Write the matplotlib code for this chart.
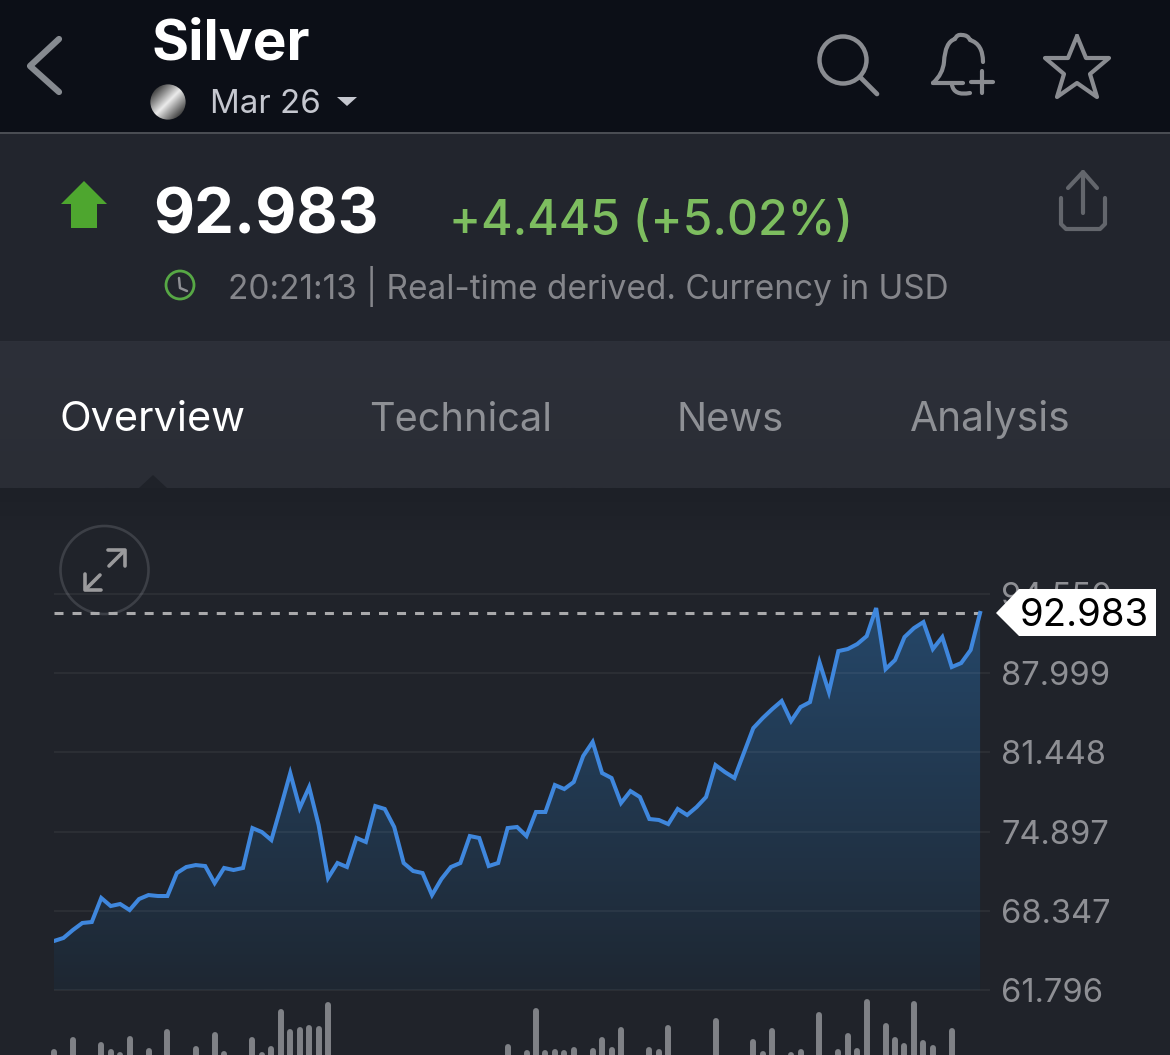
import matplotlib

matplotlib.use("Agg")
import matplotlib.pyplot as plt
import numpy as np
from matplotlib import colors as mcolors
from matplotlib.patches import Circle, Polygon, PathPatch, Rectangle
from matplotlib.path import Path

plt.rcParams["font.family"] = ["Inter", "DejaVu Sans"]

W, H = 1170, 1055

prices = [
    65.85, 66.10, 66.76, 67.34, 67.42, 69.41, 68.74, 68.91, 68.41, 69.32,
    69.65, 69.57, 69.57, 71.47, 71.97, 72.13, 72.05, 70.64, 71.89, 71.72,
    71.89, 75.19, 74.86, 74.20, 76.93, 79.74, 76.85, 78.58, 75.44, 71.06,
    72.30, 71.97, 74.37, 74.04, 77.01, 76.77, 75.28, 72.30, 71.64, 71.47,
    69.65, 70.98, 71.97, 72.30, 74.53, 74.37, 72.05, 72.30, 75.19, 75.28,
    74.53, 76.52, 76.52, 78.75, 78.42, 79.00, 81.15, 82.31, 79.74, 79.33,
    77.26, 78.25, 77.76, 75.94, 75.86, 75.52, 76.77, 76.27, 76.93, 77.76,
    80.40, 79.82, 79.33, 81.40, 83.46, 84.29, 85.03, 85.70, 84.04, 85.20,
    85.61, 88.92, 86.44, 89.83, 90.00, 90.41, 91.07, 93.39, 88.34, 89.09,
    90.99, 91.73, 92.23, 90.00, 90.99, 88.51, 88.84, 89.92, 92.983,
]
tick_values = [94.550, 87.999, 81.448, 74.897, 68.347, 61.796]
tick_labels = ["94.550", "87.999", "81.448", "74.897", "68.347", "61.796"]
last_price = 92.983

volume_idx = [
    0, 2, 5, 6, 7, 8, 10, 12, 15, 16, 17, 18, 21, 22, 23, 24, 25, 26, 27, 28, 29,
    48, 50, 51, 52, 53, 54, 55, 56, 57, 58, 59, 60, 63, 64, 65, 68, 69, 70,
    74, 75, 76, 78, 79, 80, 81, 83, 84, 85, 86, 88, 89, 90, 91, 92, 93, 94, 95,
]
volumes = [
    6, 18, 13, 6, 3, 19, 7, 26, 9, 2, 23, 4, 18, 3, 9, 46, 26, 28, 30, 29, 53,
    11, 5, 47, 5, 6, 5, 8, 1, 7, 18, 8, 28, 8, 6, 30, 2, 1, 37,
    16, 4, 27, 3, 6, 2, 43, 6, 22, 7, 56, 32, 18, 12, 54, 15, 10, 2, 27,
]

tabs = ["Overview", "Technical", "News", "Analysis"]
tab_x = [60, 369, 677, 910]
tab_size = [29.8, 28.6, 28.8, 29.3]

PX_PER_UNIT = 79.2 / 6.551
CHART_L, CHART_R = 54, 990
CHART_T, CHART_B = 585, 995
STEP_PX = 9.45


def px_to_price(py):
    return tick_values[-1] + (990 - py) / PX_PER_UNIT


def pixel_axes(fig, zorder):
    ax = fig.add_axes([0, 0, 1, 1], zorder=zorder)
    ax.set_xlim(0, W)
    ax.set_ylim(H, 0)
    ax.axis("off")
    return ax


def stroke(ax, pts, color, lw, curve=False, closed=False):
    if curve:
        codes = [Path.MOVETO] + [Path.CURVE3] * (len(pts) - 1)
        p = Path(pts, codes)
    else:
        p = Path(pts + [pts[0]] if closed else pts)
    ax.add_patch(
        PathPatch(p, fill=False, edgecolor=color, lw=lw, capstyle="round", joinstyle="round")
    )


def vertical_gradient(ax, top, bottom, color_top, color_bottom):
    c = np.linspace(0, 1, 128)[:, None, None]
    rgb = (1 - c) * np.array(mcolors.to_rgb(color_top)) + c * np.array(mcolors.to_rgb(color_bottom))
    return ax.imshow(
        rgb, extent=(0, W, bottom, top), aspect="auto", interpolation="bilinear", zorder=1
    )


fig = plt.figure(figsize=(W / 100, H / 100), dpi=100, facecolor="#20232a")

# background panels and static icons
bg = pixel_axes(fig, 0)
bg.add_patch(Rectangle((0, 0), W, 132, color="#0c0f17", lw=0))
bg.add_patch(Rectangle((0, 132), W, 1.5, color="#4a4d53", lw=0))
bg.add_patch(Rectangle((0, 133.5), W, 208, color="#22252d", lw=0))
vertical_gradient(bg, 341, 488, "#2d3039", "#2a2d35")
vertical_gradient(bg, 488, 530, "#1d2027", "#20232a")
bg.set_xlim(0, W)
bg.set_ylim(H, 0)
bg.add_patch(Polygon([(139, 488), (153, 475), (167, 488)], color="#1f2229", lw=0, zorder=2))
bg.add_patch(Circle((104.5, 570), 44, fill=False, edgecolor="#3c3f46", lw=1.9, zorder=2))
stroke(bg, [(109, 566), (124, 551)], "#9a9a9c", 2.6)
stroke(bg, [(108, 550), (125, 550), (125, 566)], "#9a9a9c", 2.6)
stroke(bg, [(100, 575), (86, 589)], "#9a9a9c", 2.6)
stroke(bg, [(85, 574), (85, 590), (101, 590)], "#9a9a9c", 2.6)

# chart
ax = fig.add_axes(
    [
        CHART_L / W,
        1 - CHART_B / H,
        (CHART_R - CHART_L) / W,
        (CHART_B - CHART_T) / H,
    ],
    zorder=1,
)
ax.patch.set_alpha(0)
x = np.arange(len(prices))
xmax = (CHART_R - CHART_L) / STEP_PX
y_low = tick_values[-1]

c = np.linspace(0, 1, 256)[:, None, None]
rgb = (1 - c) * np.array(mcolors.to_rgb("#254769")) + c * np.array(mcolors.to_rgb("#1e2732"))
im = ax.imshow(
    rgb,
    extent=(0, len(prices) - 1, y_low, max(prices)),
    aspect="auto",
    interpolation="bilinear",
    zorder=1,
)
poly = ax.fill_between(x, prices, y_low, color="none", lw=0)
im.set_clip_path(poly.get_paths()[0], transform=ax.transData)

for v in tick_values:
    ax.axhline(v, color="white", alpha=0.05, lw=1.6, zorder=2)
ax.plot(
    [0, len(prices) - 1],
    [last_price, last_price],
    color="#a9a9ab",
    lw=2.2,
    linestyle=(0, (2.95, 2.95)),
    dash_capstyle="butt",
    zorder=3,
)
ax.plot(x, prices, color="#3f87dd", lw=2.9, solid_joinstyle="miter", zorder=4)

ax.set_xlim(0, xmax)
ax.set_ylim(px_to_price(CHART_B), px_to_price(CHART_T))
ax.set_xticks([])
ax.yaxis.tick_right()
ax.set_yticks(tick_values, tick_labels)
ax.tick_params(axis="y", length=0, pad=8, labelsize=23.5, labelcolor="#8e8f94")
for s in ax.spines.values():
    s.set_visible(False)

# volume
vax = fig.add_axes(
    [CHART_L / W, 0, (CHART_R - CHART_L) / W, (H - 990) / H], zorder=1
)
vax.patch.set_alpha(0)
vax.vlines(
    volume_idx,
    -5,
    np.array(volumes) - 3,
    color="#7f8186",
    lw=4.3,
    capstyle="round",
    clip_on=False,
)
vax.set_xlim(0, xmax)
vax.set_ylim(0, H - 990)
vax.axis("off")

# foreground text, icons and price tag
fg = pixel_axes(fig, 3)
fg.add_patch(
    Polygon([(996, 613), (1019, 589), (1156, 589), (1156, 636), (1019, 636)], color="white", lw=0)
)
fg.text(1020, 626, "92.983", color="black", fontsize=27.6, va="baseline")

fg.text(151, 60, "Silver", color="white", fontsize=40.8, fontweight="bold", va="baseline")
fg.text(210, 113, "Mar 26", color="#c5c7cf", fontsize=23.8, va="baseline")
fg.add_patch(Polygon([(337, 97), (357, 97), (347, 106)], color="#c5c7cf", lw=0))

# silver coin
coin = fig.add_axes([150 / W, 1 - 120 / H, 36 / W, 36 / H], zorder=3)
gx, gy = np.meshgrid(np.linspace(-1, 1, 64), np.linspace(-1, 1, 64))
shade = np.abs(gx + gy) / 1.6
coin_img = coin.imshow(
    np.clip(0.92 - 0.75 * shade, 0.28, 1), cmap="gray", vmin=0, vmax=1, extent=(-1, 1, -1, 1)
)
coin_img.set_clip_path(Circle((0, 0), 0.98, transform=coin.transData))
coin.axis("off")

stroke(fg, [(59, 39), (30, 66), (59, 92)], "#868a90", 4.5)
fg.add_patch(Circle((843, 60), 23.5, fill=False, edgecolor="#8a8c91", lw=3.2))
stroke(fg, [(860, 77), (877, 94)], "#8a8c91", 3.4)

stroke(fg, [(933, 83), (943, 74), (944, 62), (945, 42), (955, 39), (957, 34), (962, 35),
            (968, 35), (970, 40), (983, 44), (983, 62)], "#8a8c91", 3.0, curve=True)
stroke(fg, [(933, 83), (963, 83)], "#8a8c91", 3.0)
stroke(fg, [(952, 85), (954, 96), (970, 93)], "#8a8c91", 3.0, curve=True)
stroke(fg, [(971, 82), (993, 82)], "#8a8c91", 3.0)
stroke(fg, [(982, 71), (982, 93)], "#8a8c91", 3.0)

star = [(1077, 36), (1086, 58), (1109, 58), (1090, 74), (1097, 97),
        (1077, 83), (1057, 97), (1064, 74), (1045, 58), (1068, 58)]
stroke(fg, star, "#8a8c91", 3.0, closed=True)

fg.add_patch(
    Polygon(
        [(84, 181), (107, 204), (97, 204), (97, 228), (71, 228), (71, 204), (61, 204)],
        color="#4ea62f",
        lw=0,
    )
)
fg.text(153, 234, "92.983", color="white", fontsize=45.6, fontweight="bold", va="baseline")
fg.text(449, 234.5, "+4.445 (+5.02%)", color="#7dbd5f", fontsize=34.6, fontweight="medium", va="baseline")

fg.add_patch(Circle((180, 285), 14, fill=False, edgecolor="#57a845", lw=2.0))
stroke(fg, [(179, 278), (180, 288), (187, 291)], "#8e8f94", 1.8)
fg.text(228, 299, "20:21:13 | Real-time derived. Currency in USD", color="#85868b", fontsize=24, va="baseline")

stroke(fg, [(1061, 198), (1061, 224), (1066, 229), (1100, 229), (1105, 224), (1105, 198)], "#63666c", 3.0)
stroke(fg, [(1083, 213), (1083, 172)], "#63666c", 3.0)
stroke(fg, [(1068, 188), (1083, 172), (1097, 188)], "#63666c", 3.0)

for i, (name, tx, size) in enumerate(zip(tabs, tab_x, tab_size)):
    fg.text(tx, 431, name, color="white" if i == 0 else "#8e9095", fontsize=size, va="baseline")

fig.savefig("out.png", dpi=100, facecolor=fig.get_facecolor())
